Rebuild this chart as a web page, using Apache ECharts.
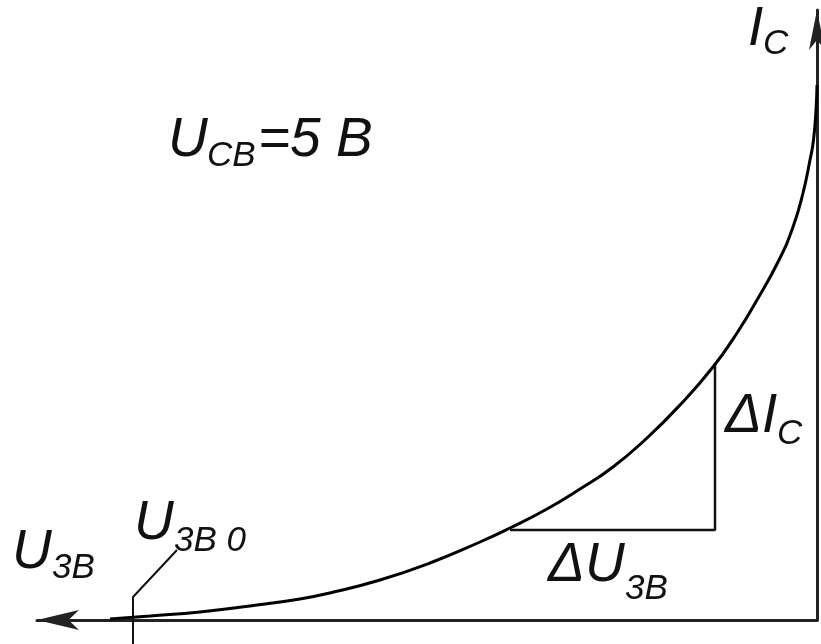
<!DOCTYPE html>
<html>
<head>
<meta charset="utf-8">
<script src="https://cdn.jsdelivr.net/npm/echarts@6/dist/echarts.min.js"></script>
<style>
html,body{margin:0;padding:0;background:#fff;}
#chart{width:821px;height:644px;}
</style>
</head>
<body>
<div id="chart"></div>
<script>
// Input characteristic: U (emitter-base voltage, arbitrary units) vs I_C
const curveU = [0.707, 0.667, 0.617, 0.567, 0.517, 0.487, 0.437, 0.387, 0.337, 0.307, 0.270, 0.237, 0.204, 0.170, 0.137, 0.104, 0.080, 0.060, 0.038, 0.024, 0.014, 0.007, 0.0035, 0.001, 0.000];
const curveI = [0.01, 0.04, 0.08, 0.14, 0.21, 0.27, 0.40, 0.57, 0.78, 0.92, 1.11, 1.31, 1.53, 1.82, 2.15, 2.53, 2.87, 3.20, 3.60, 3.93, 4.27, 4.60, 4.80, 5.10, 5.35];
// Delta triangle
const triU = [0.307, 0.102, 0.102];
const triI = [0.90, 0.90, 2.57];
// U_3B0 marker with leader line
const markU = [0.684, 0.684, 0.640];
const markI = [-0.24, 0.23, 0.70];
// axis ranges
const xMax = 0.78;
const yMax = 6.1;
// labels
const txtUcb = 'U', txtUcbSub = 'CB', txtUcbVal = '=5 B';
const txtIc = 'I', txtIcSub = 'C';
const txtUeb = 'U', txtUebSub = '3B';
const txtUeb0 = 'U', txtUeb0Sub = '3B 0';
const txtDI = '\u0394I', txtDISub = 'C';
const txtDU = '\u0394U', txtDUSub = '3B';

const zip = (a, b) => a.map((v, i) => [v, b[i]]);
const FAM = '"Liberation Sans", Arial, sans-serif';
const MAIN = 'italic 55px ' + FAM;
const SUB = 'italic 35px ' + FAM;
const COL = '#111';
function t(text, x, y, font) {
  return {type: 'text', x: x, y: y, z: 100,
    style: {text: text, font: font, fill: COL, verticalAlign: 'middle', align: 'left'}};
}

const chart = echarts.init(document.getElementById('chart'), null, {renderer: 'canvas'});
chart.setOption({
  backgroundColor: '#fff',
  animation: false,
  grid: {left: 37, right: 4, top: 10, bottom: 24},
  xAxis: {
    type: 'value', inverse: true, min: 0, max: xMax,
    axisLine: {show: true, onZero: true, symbol: ['arrow', 'none'], symbolSize: [15, 42],
      lineStyle: {color: '#222', width: 3}},
    axisTick: {show: false}, axisLabel: {show: false}, splitLine: {show: false}
  },
  yAxis: {
    type: 'value', min: 0, max: yMax,
    axisLine: {show: true, onZero: true, symbol: ['none', 'arrow'], symbolSize: [12, 40],
      lineStyle: {color: '#222', width: 3}},
    axisTick: {show: false}, axisLabel: {show: false}, splitLine: {show: false}
  },
  series: [
    {type: 'line', data: zip(curveU, curveI), smooth: 0.5, showSymbol: false, clip: false,
      lineStyle: {color: '#000', width: 3}, z: 5},
    {type: 'line', data: zip(triU, triI), showSymbol: false, clip: false,
      lineStyle: {color: '#111', width: 2.5}, z: 4},
    {type: 'line', data: zip(markU, markI), showSymbol: false, clip: false,
      lineStyle: {color: '#111', width: 2}, z: 4}
  ],
  graphic: [
    t(txtUcb, 168, 141, MAIN), t(txtUcbSub, 207, 156, SUB), t(txtUcbVal, 258, 141, MAIN),
    t(txtIc, 748, 30, MAIN), t(txtIcSub, 763, 44, SUB),
    t(txtUeb, 12, 553, MAIN), t(txtUebSub, 52, 568, SUB),
    t(txtUeb0, 134, 524, MAIN), t(txtUeb0Sub, 174, 541, SUB),
    t(txtDI, 725, 417, MAIN), t(txtDISub, 777, 434, SUB),
    t(txtDU, 548, 566, MAIN), t(txtDUSub, 625, 589, SUB)
  ]
});
</script>
</body>
</html>
